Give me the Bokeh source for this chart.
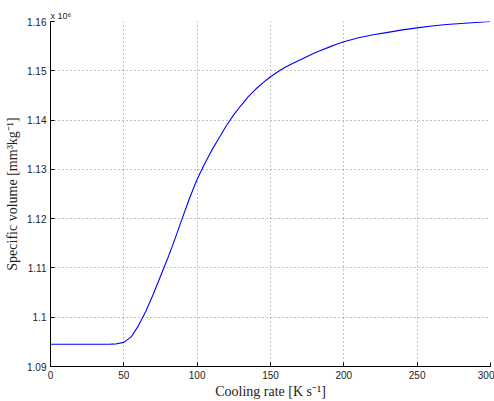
from bokeh.plotting import figure
from bokeh.models import FixedTicker, CustomJSTickFormatter, Range1d, Title
from bokeh.embed import file_html
from bokeh.resources import INLINE

# Cooling rate [K/s]
cooling_rate = [0, 10, 20, 30, 40, 45, 50, 55, 60, 65, 70, 75, 80, 85, 90, 95,
                100, 105, 110, 115, 120, 125, 130, 135, 140, 145, 150, 155, 160,
                165, 170, 175, 180, 185, 190, 195, 200, 210, 220, 230, 240, 250,
                260, 270, 280, 290, 300]
# Specific volume (x 10^6 mm^3/kg)
specific_volume = [1.0945, 1.0945, 1.0945, 1.0945, 1.0945, 1.0946, 1.0949, 1.0960,
                   1.0983, 1.1012, 1.1046, 1.1083, 1.1120, 1.1160, 1.1202, 1.1243,
                   1.1280, 1.1311, 1.1339, 1.1364, 1.1389, 1.1411, 1.1430, 1.1448,
                   1.1463, 1.1476, 1.1488, 1.1498, 1.1507, 1.1515, 1.1522, 1.1529,
                   1.1536, 1.1542, 1.1548, 1.1554, 1.1559, 1.1567, 1.1573, 1.1578,
                   1.1583, 1.1587, 1.1591, 1.1594, 1.1596, 1.1598, 1.1600]

x_ticks = [0, 50, 100, 150, 200, 250, 300]
y_ticks = [1.09, 1.10, 1.11, 1.12, 1.13, 1.14, 1.15, 1.16]

p = figure(width=494, height=401, output_backend="svg", toolbar_location=None,
           x_range=Range1d(0, 300), y_range=Range1d(1.09, 1.16),
           min_border_left=50, min_border_right=4, min_border_top=21,
           min_border_bottom=31)
p.outline_line_color = None
p.background_fill_color = "white"
p.border_fill_color = "white"

p.add_layout(Title(text="x 10\u2076", align="left", text_font="Liberation Sans",
                   text_font_size="9px", text_font_style="normal",
                   text_color="#222222", offset=0, standoff=2), "above")

p.line(cooling_rate, specific_volume, line_color="#0000ff", line_width=1.1)

for ax in (p.xaxis[0], p.yaxis[0]):
    ax.major_tick_in = 4
    ax.major_tick_out = 0
    ax.minor_tick_line_color = None
    ax.axis_line_color = "black"
    ax.major_tick_line_color = "black"
    ax.major_label_text_font = "Liberation Sans"
    ax.major_label_text_font_size = "10px"
    ax.major_label_text_color = "#222222"
    ax.axis_label_text_font = "Liberation Serif"
    ax.axis_label_text_font_style = "normal"
    ax.axis_label_text_font_size = "14px"
    ax.axis_label_text_color = "#222222"

p.xaxis.ticker = FixedTicker(ticks=x_ticks)
p.yaxis.ticker = FixedTicker(ticks=y_ticks)
p.yaxis.formatter = CustomJSTickFormatter(code="return tick.toFixed(2).replace(/0$/, '');")
p.xaxis.axis_label = "Cooling rate [K s\u207b\u00b9]"
p.yaxis.axis_label = "Specific volume [mm\u00b3kg\u207b\u00b9]"
p.xaxis.major_label_standoff = 4
p.yaxis.major_label_standoff = 4
p.xaxis.axis_label_standoff = 2
p.yaxis.axis_label_standoff = 4

p.grid.grid_line_color = "#666666"
p.grid.grid_line_dash = "1 3"
p.grid.grid_line_alpha = 0.8

open("out.html", "w").write(file_html(p, INLINE))
